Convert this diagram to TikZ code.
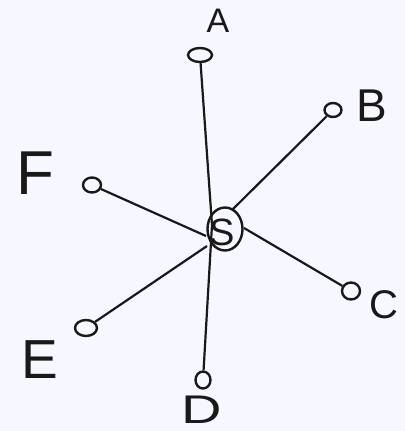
\documentclass[tikz,border=0pt]{standalone}
\usepackage{fontspec}
\setsansfont{Liberation Sans}
\usetikzlibrary{shapes.geometric}
\begin{document}
\begin{tikzpicture}[x=1pt,y=-1pt,
  leaf/.style={draw=black!90,line width=2.4pt,ellipse,inner sep=0pt,minimum width=17pt,minimum height=14pt},
  hub/.style={draw=black!90,line width=2.4pt,ellipse,inner sep=0pt,minimum width=35pt,minimum height=43pt},
  edge/.style={draw=black!90,line width=2.2pt},
  lbl/.style={font=\sffamily,text=black!90,inner sep=0pt}]
\useasboundingbox[fill=white!97!blue] (0,0) rectangle (405,431);
\node[hub] (s) at (225,229) {};
\node[lbl,font=\sffamily\fontsize{38}{38}\selectfont] (sl) at (222,232) {S};
\node[leaf,minimum width=24pt] (a) at (200,55) {};
\node[leaf] (b) at (333,110) {};
\node[leaf,minimum width=18pt,minimum height=17pt] (c) at (351,291) {};
\node[leaf,minimum width=22pt,minimum height=16pt] (e) at (86,328) {};
\node[leaf,minimum width=15pt,minimum height=17pt] (d) at (203,380) {};
\node[leaf,minimum width=18pt,minimum height=15pt] (f) at (92,185) {};
\coordinate (sv) at (212,225);
\coordinate (sb) at (233,209);
\coordinate (sf) at (206,236);
\coordinate (sc) at (244,228);
\coordinate (se) at (207,246);
\draw[edge] (a) -- (sv);
\draw[edge] (sv) -- (d);
\draw[edge] (b) -- (sb);
\draw[edge] (f) -- (sf);
\draw[edge] (c) -- (sc);
\draw[edge] (e) -- (se);
\node[lbl,font=\sffamily\fontsize{34}{34}\selectfont] (la) at (218,21) {A};
\node[lbl,font=\sffamily\fontsize{46}{46}\selectfont] (lb) at (372,106) {B};
\node[lbl,font=\sffamily\fontsize{40}{40}\selectfont] (lc) at (384,305) {C};
\node[lbl,font=\sffamily\fontsize{62}{62}\selectfont] (lf) at (35,173) {F};
\node[lbl,font=\sffamily\fontsize{55}{55}\selectfont] (le) at (40,360) {E};
\node[lbl,font=\sffamily\fontsize{40}{40}\selectfont,xscale=1.4] (ld) at (202,410) {D};
\end{tikzpicture}
\end{document}
